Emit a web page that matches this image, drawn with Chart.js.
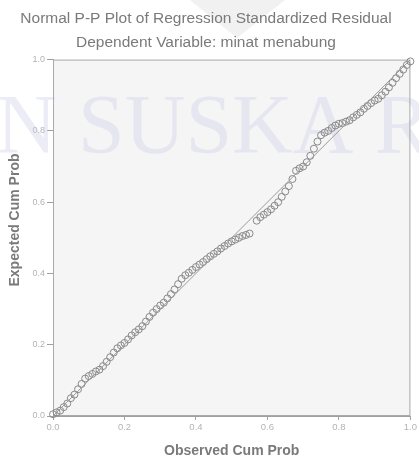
<!DOCTYPE html>
<html>
<head>
<meta charset="utf-8">
<script src="https://cdn.jsdelivr.net/npm/chart.js@4"></script>
<style>
  body { margin: 0; background: #fff; }
  canvas { display: block; }
</style>
</head>
<body>
<canvas id="chart" width="419" height="463"></canvas>
<script>
// values
const observed = [0.00, 0.01, 0.02, 0.03, 0.04, 0.05, 0.06, 0.07, 0.08, 0.09,
  0.10, 0.11, 0.12, 0.13, 0.14, 0.15, 0.16, 0.17, 0.18, 0.19,
  0.20, 0.21, 0.22, 0.23, 0.24, 0.25, 0.26, 0.27, 0.28, 0.29,
  0.30, 0.31, 0.32, 0.33, 0.34, 0.35, 0.36, 0.37, 0.38, 0.39,
  0.40, 0.41, 0.42, 0.43, 0.44, 0.45, 0.46, 0.47, 0.48, 0.49,
  0.50, 0.51, 0.52, 0.53, 0.54, 0.55, 0.57, 0.58, 0.59, 0.60,
  0.61, 0.62, 0.63, 0.64, 0.65, 0.66, 0.67, 0.68, 0.69, 0.70,
  0.71, 0.72, 0.73, 0.74, 0.75, 0.76, 0.77, 0.78, 0.79, 0.80,
  0.81, 0.82, 0.83, 0.84, 0.85, 0.86, 0.87, 0.88, 0.89, 0.90,
  0.91, 0.92, 0.93, 0.94, 0.95, 0.96, 0.97, 0.98, 0.99, 1.00];
const expected = [0.005, 0.01, 0.015, 0.025, 0.035, 0.05, 0.06, 0.075, 0.09, 0.105,
  0.112, 0.118, 0.125, 0.13, 0.14, 0.152, 0.165, 0.178, 0.19, 0.198,
  0.205, 0.215, 0.226, 0.235, 0.243, 0.252, 0.265, 0.278, 0.29, 0.30,
  0.31, 0.318, 0.33, 0.342, 0.355, 0.37, 0.385, 0.395, 0.402, 0.41,
  0.418, 0.425, 0.432, 0.44, 0.448, 0.455, 0.462, 0.47, 0.477, 0.484,
  0.49, 0.495, 0.50, 0.505, 0.508, 0.512, 0.548, 0.558, 0.565, 0.572,
  0.58, 0.59, 0.60, 0.615, 0.63, 0.645, 0.665, 0.688, 0.695, 0.70,
  0.712, 0.73, 0.75, 0.77, 0.788, 0.795, 0.80, 0.808, 0.815, 0.82,
  0.822, 0.826, 0.83, 0.838, 0.845, 0.852, 0.862, 0.87, 0.878, 0.885,
  0.89, 0.90, 0.91, 0.922, 0.935, 0.948, 0.96, 0.972, 0.985, 0.995];
const refLine = [{ x: 0, y: 0 }, { x: 1, y: 1 }];
const titleLines = ["Normal P-P Plot of Regression Standardized Residual", "Dependent Variable: minat menabung"];
const xTitle = "Observed Cum Prob";
const yTitle = "Expected Cum Prob";

const points = observed.map((x, i) => ({ x: x, y: expected[i] }));

// plot background, watermark, frame and the y axis title
const plotBox = {
  id: "plotBox",
  beforeDraw(chart) {
    const ctx = chart.ctx;
    const a = chart.chartArea;
    ctx.save();
    ctx.fillStyle = "#ffffff";
    ctx.fillRect(0, 0, chart.width, chart.height);
    ctx.fillStyle = "#f1f1f1";
    ctx.beginPath();
    ctx.moveTo(190, 0);
    ctx.lineTo(285, 0);
    ctx.lineTo(237, 38);
    ctx.closePath();
    ctx.fill();
    ctx.fillStyle = "#f5f5f5";
    ctx.fillRect(a.left, a.top, a.right - a.left, a.bottom - a.top);
    ctx.restore();
  },
  beforeDatasetsDraw(chart) {
    const ctx = chart.ctx;
    const a = chart.chartArea;
    ctx.save();
    ctx.font = "84px 'Liberation Serif'";
    ctx.fillStyle = "rgba(205, 205, 232, 0.38)";
    ctx.textBaseline = "alphabetic";
    const lead = ctx.measureText("UIN ").width;
    ctx.fillText("UIN SUSKA RIAU", 78 - lead, 153);
    ctx.strokeStyle = "#aaaaaa";
    ctx.lineWidth = 1;
    ctx.strokeRect(a.left + 0.5, a.top + 0.5, a.right - a.left - 1, a.bottom - a.top - 1);
    // y axis title
    ctx.translate(15, 220);
    ctx.rotate(-Math.PI / 2);
    ctx.font = "bold 14px 'Liberation Sans'";
    ctx.fillStyle = "#7a7a7a";
    ctx.textAlign = "center";
    ctx.textBaseline = "middle";
    ctx.fillText(yTitle, 0, 0);
    ctx.restore();
  }
};

new Chart(document.getElementById("chart"), {
  type: "scatter",
  data: {
    datasets: [
      {
        type: "line",
        data: refLine,
        borderColor: "#9a9a9a",
        borderWidth: 1,
        pointRadius: 0,
        fill: false
      },
      {
        data: points,
        pointStyle: "circle",
        pointRadius: 3.5,
        borderColor: "#8a8a8a",
        borderWidth: 1,
        backgroundColor: "rgba(0,0,0,0)",
        clip: false
      }
    ]
  },
  options: {
    responsive: false,
    animation: false,
    devicePixelRatio: 1,
    layout: { padding: { left: 0, right: 7, top: 0, bottom: 0 } },
    plugins: {
      legend: { display: false },
      tooltip: { enabled: false },
      title: {
        display: true,
        text: titleLines,
        color: "#7a7a7a",
        font: { family: "Liberation Sans", size: 15.5, weight: "normal", lineHeight: 1.6 },
        padding: { top: 6, bottom: 4 }
      }
    },
    scales: {
      x: {
        type: "linear",
        min: 0,
        max: 1,
        ticks: {
          stepSize: 0.2,
          color: "#b4b4b4",
          font: { family: "Liberation Sans", size: 9.5 },
          padding: 2,
          callback: (v) => v.toFixed(1)
        },
        grid: { drawOnChartArea: false, tickLength: 4, color: "#a0a0a0" },
        border: { color: "#a0a0a0" },
        title: {
          display: true,
          text: xTitle,
          color: "#7a7a7a",
          font: { family: "Liberation Sans", size: 14, weight: "bold" },
          padding: { top: 0, bottom: 3 }
        },
        afterFit: (s) => { s.height = 47; }
      },
      y: {
        type: "linear",
        min: 0,
        max: 1,
        ticks: {
          stepSize: 0.2,
          color: "#b4b4b4",
          font: { family: "Liberation Sans", size: 9 },
          padding: 2,
          callback: (v) => v.toFixed(1)
        },
        grid: { drawOnChartArea: false, tickLength: 6, color: "#a0a0a0" },
        border: { color: "#a0a0a0" },
        afterFit: (s) => { s.width = 53; }
      }
    }
  },
  plugins: [plotBox]
});
</script>
</body>
</html>
